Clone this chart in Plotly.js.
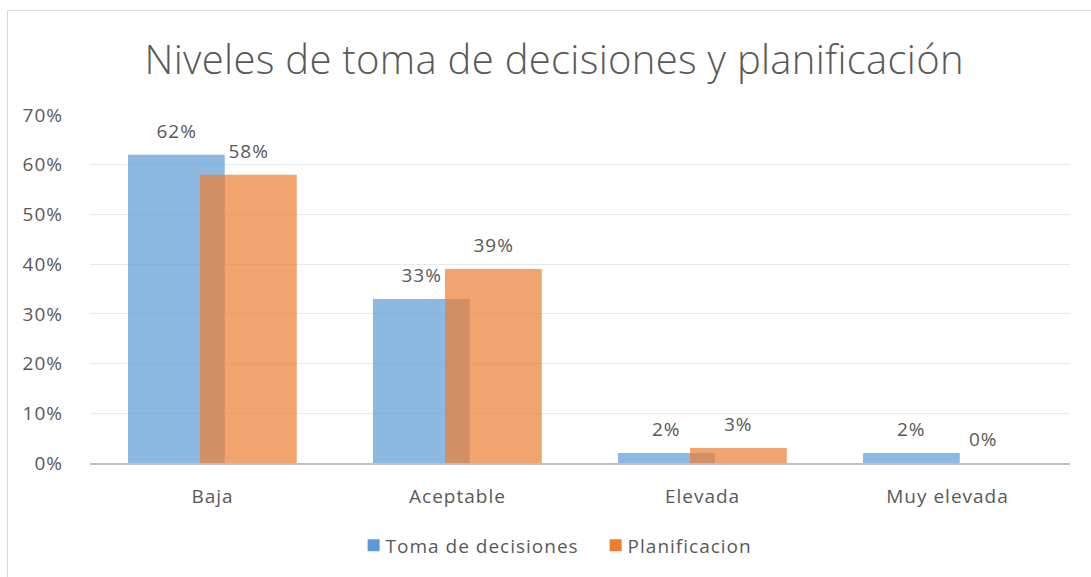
<!DOCTYPE html>
<html>
<head>
<meta charset="utf-8">
<script src="https://cdn.plot.ly/plotly-3.0.1.min.js"></script>
<style>
  html, body { margin: 0; padding: 0; background: #ffffff; }
  #chart { width: 1091px; height: 577px; }
  #chart text { letter-spacing: 1px; }
  #chart .gtitle { letter-spacing: 0.3px; }
  #chart .legendtext { transform: translateX(-8px); }
  #frame { position: absolute; left: 7px; top: 10px; width: 1090px; height: 580px; border: 1px solid #d9d9d9; pointer-events: none; box-sizing: border-box; }
</style>
</head>
<body>
<div id="chart"></div>
<div id="frame"></div>
<script>
const categories = ["Baja", "Aceptable", "Elevada", "Muy elevada"];
const tomaDecisiones = [0.62, 0.33, 0.02, 0.02];
const planificacion = [0.58, 0.39, 0.03, 0.00];
const seriesNames = ["Toma de decisiones", "Planificacion"];
const yTicks = [0, 0.1, 0.2, 0.3, 0.4, 0.5, 0.6, 0.7];

const textColor = "#595959";
const baseFont = { family: "Open Sans, sans-serif", size: 19, color: textColor };

const barWidth = 0.395;
const offsets = [-0.345, -0.051];
const seriesValues = [tomaDecisiones, planificacion];
const seriesColors = ["#5B9BD5", "#ED7D31"];

const traces = seriesValues.map((vals, s) => ({
  type: "bar", name: seriesNames[s], x: categories, y: vals,
  width: barWidth, offset: offsets[s],
  marker: { color: seriesColors[s], opacity: 0.7 },
  hoverinfo: "skip"
}));

// data labels placed through the axis (category index + bar offset)
const annotations = [];
seriesValues.forEach((vals, s) => {
  vals.forEach((v, i) => {
    annotations.push({
      x: i + offsets[s] + barWidth / 2, y: v, xref: "x", yref: "y",
      text: Math.round(v * 100) + "%", showarrow: false,
      xanchor: "center", yanchor: "bottom", yshift: 9,
      font: baseFont
    });
  });
});

const layout = {
  width: 1091, height: 577,
  paper_bgcolor: "rgba(0,0,0,0)", plot_bgcolor: "rgba(0,0,0,0)",
  margin: { l: 90, r: 21, t: 115, b: 112 },
  barmode: "overlay",
  font: baseFont,
  title: {
    text: "Niveles de toma de decisiones y planificación",
    font: { family: "Open Sans, sans-serif", size: 40, color: textColor, weight: 300 },
    x: 0.508, xanchor: "center", y: 1 - 60 / 577, yanchor: "middle"
  },
  xaxis: {
    type: "category", showgrid: false, zeroline: false,
    range: [-0.5, 3.5],
    showline: true, linecolor: "#bfbfbf", linewidth: 2,
    ticks: "", tickfont: baseFont, ticklabelstandoff: 15
  },
  yaxis: {
    range: [0, 0.7], tickvals: yTicks, tickformat: ".0%",
    showgrid: true, gridcolor: "#e9e9e9", gridwidth: 1,
    zeroline: false, showline: false, ticks: "",
    tickfont: baseFont, ticklabelstandoff: 26
  },
  annotations: annotations,
  showlegend: true,
  legend: {
    orientation: "h", x: 0.269, xanchor: "left", y: -0.237, yanchor: "middle",
    font: baseFont, itemwidth: 30, entrywidth: 197, entrywidthmode: "pixels",
    traceorder: "normal"
  }
};

Plotly.newPlot("chart", traces, layout, { displayModeBar: false, staticPlot: true });
</script>
</body>
</html>
